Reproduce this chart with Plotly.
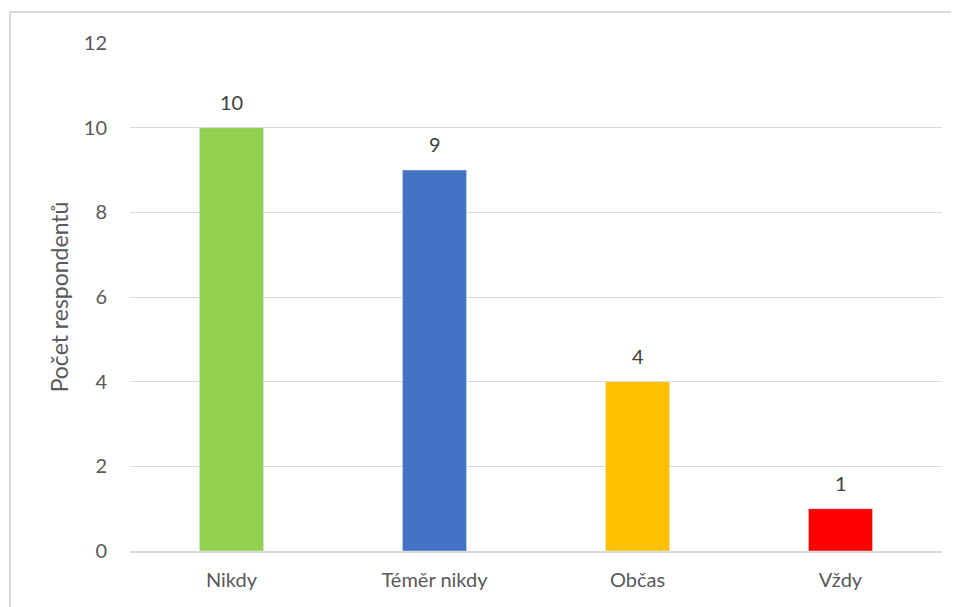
import plotly.graph_objects as go

categories = ["Nikdy", "Téměr nikdy", "Občas", "Vždy"]
values = [10, 9, 4, 1]
colors = ["#92d050", "#4472c4", "#ffc000", "#ff0000"]
y_ticks = [0, 2, 4, 6, 8, 10, 12]

# page body has an 8px margin; size figure so that it fills the 959x607 window
W, H = 951, 599
ml, mr, mt, mb = 122, 17, 35, 56
pw, ph = W - ml - mr, H - mt - mb

fig = go.Figure(go.Bar(
    x=categories, y=values, marker_color=colors, width=0.316,
))

for c, v in zip(categories, values):
    fig.add_annotation(x=c, y=v, text=str(v), showarrow=False, yanchor="bottom",
                       yshift=12, font=dict(size=20, color="#404040"))

fig.update_layout(
    width=W, height=H,
    margin=dict(l=ml, r=mr, t=mt, b=mb, autoexpand=False),
    plot_bgcolor="white", paper_bgcolor="white",
    font=dict(family="Lato, Open Sans, sans-serif", size=20, color="#595959"),
    showlegend=False,
    xaxis=dict(showgrid=False, showline=True, linecolor="#d9d9d9", linewidth=1.5,
               ticks="", tickfont=dict(size=20), ticklabelstandoff=10),
    yaxis=dict(range=[0, 12], tickvals=y_ticks, showgrid=True, gridcolor="#d9d9d9",
               gridwidth=1, zeroline=False, ticks="", tickfont=dict(size=20),
               ticklabelstandoff=22,
               title=dict(text="Počet respondentů", font=dict(size=23, color="#595959"), standoff=8)),
    shapes=[dict(type="rect", xref="paper", yref="paper",
                 x0=(2 - ml) / pw, x1=(W + 20 - ml) / pw,
                 y0=-(mb + 20) / ph, y1=1 + (mt - 4) / ph,
                 line=dict(color="#d9d9d9", width=2), fillcolor="rgba(0,0,0,0)", layer="below")],
)

fig.write_html("out.html")
